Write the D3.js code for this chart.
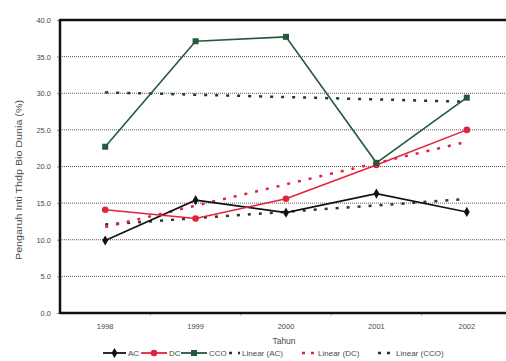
<!DOCTYPE html>
<html><head><meta charset="utf-8">
<script src="https://cdn.jsdelivr.net/npm/d3@7"></script>
<style>body{margin:0;background:#fff;}svg{display:block;font-family:"Liberation Sans",Arial,sans-serif;}</style>
</head><body>
<script>
const years = ["1998","1999","2000","2001","2002"];
const acValues = [9.9, 15.4, 13.7, 16.3, 13.8];
const dcValues = [14.1, 12.9, 15.6, 20.2, 25.0];
const ccoValues = [22.7, 37.1, 37.7, 20.5, 29.4];
const yTicks = [0,5,10,15,20,25,30,35,40];
const seriesNames = ["AC","DC","CCO"];

const W=506,H=361;
const svg=d3.select("body").append("svg").attr("width",W).attr("height",H);
const L=60,R=512,T=20,B=313;
const x=d3.scaleBand().domain(years).range([L,R]).padding(0);
const y=d3.scaleLinear().domain([0,40]).range([B,T]);
const cx=d=>x(d)+x.bandwidth()/2;
const txt="#4a4a4a";

// gridlines
svg.append("g").selectAll("line").data(yTicks.filter(v=>v>0&&v<40)).join("line")
  .attr("x1",L).attr("x2",W).attr("y1",d=>y(d)).attr("y2",d=>y(d))
  .attr("stroke","#555").attr("stroke-width",1).attr("stroke-dasharray","1,1");

// y axis
const ya=svg.append("g").attr("transform",`translate(${L},0)`)
  .call(d3.axisLeft(y).tickValues(yTicks).tickFormat(d3.format(".1f")).tickSize(3).tickPadding(6));
ya.select(".domain").remove();
ya.selectAll("text").attr("fill",txt).attr("font-size",7.5);
ya.selectAll("line").attr("stroke","#999");

// x axis
const xa=svg.append("g").attr("transform",`translate(0,${B})`)
  .call(d3.axisBottom(x).tickSize(0).tickPadding(11));
xa.select(".domain").remove();
xa.selectAll("text").attr("fill",txt).attr("font-size",7.5);
svg.append("g").selectAll("line").data(years.slice(1)).join("line")
  .attr("x1",d=>x(d)).attr("x2",d=>x(d)).attr("y1",B).attr("y2",B+3).attr("stroke","#bbb");

// frame
svg.append("line").attr("x1",L).attr("x2",W).attr("y1",T).attr("y2",T).attr("stroke","#111").attr("stroke-width",2.5);
svg.append("line").attr("x1",L).attr("x2",W).attr("y1",B).attr("y2",B).attr("stroke","#111").attr("stroke-width",2.5);
svg.append("line").attr("x1",L).attr("x2",L).attr("y1",T-1).attr("y2",B+1).attr("stroke","#111").attr("stroke-width",2.5);

// titles
svg.append("text").attr("x",284).attr("y",344).attr("text-anchor","middle").attr("font-size",8.5).attr("fill",txt).text("Tahun");
svg.append("text").attr("transform","translate(22,180) rotate(-90)").attr("text-anchor","middle").attr("font-size",8.5)
  .attr("fill",txt).attr("textLength",160).attr("lengthAdjust","spacingAndGlyphs").text("Pengaruh Inti Thdp Bio Dunia (%)");

const series=[
  {name:"AC",vals:acValues,color:"#111",trend:"#333",marker:"diamond"},
  {name:"DC",vals:dcValues,color:"#e0243c",trend:"#e0243c",marker:"circle"},
  {name:"CCO",vals:ccoValues,color:"#245a3a",trend:"#1e3a2a",marker:"square"}
];

function regress(vals){
  const xs=vals.map((v,i)=>i);
  const mx=d3.mean(xs),my=d3.mean(vals);
  const s=d3.sum(xs,(xi,i)=>(xi-mx)*(vals[i]-my))/d3.sum(xs,xi=>(xi-mx)**2);
  return [0,xs.length-1].map(i=>({i,v:my+s*(i-mx)}));
}
const line=d3.line().x(d=>cx(years[d.i])).y(d=>y(d.v));

// trendlines
series.forEach(s=>{
  svg.append("path").datum(regress(s.vals)).attr("d",line)
    .attr("fill","none").attr("stroke",s.trend).attr("stroke-width",2.5).attr("stroke-dasharray","3,8");
});

function drawMarker(g,type,color,px,py){
  if(type==="diamond") g.append("path").attr("d",d3.symbol(d3.symbolDiamond,30)()).attr("transform",`translate(${px},${py})`).attr("fill",color);
  else if(type==="circle") g.append("circle").attr("cx",px).attr("cy",py).attr("r",3.3).attr("fill",color);
  else g.append("rect").attr("x",px-3).attr("y",py-3).attr("width",6).attr("height",6).attr("fill",color);
}

series.forEach(s=>{
  const pts=s.vals.map((v,i)=>({i,v}));
  svg.append("path").datum(pts).attr("d",line).attr("fill","none").attr("stroke",s.color).attr("stroke-width",1.6);
  const g=svg.append("g");
  pts.forEach(p=>drawMarker(g,s.marker,s.color,cx(years[p.i]),y(p.v)));
});

// legend
const lg=svg.append("g").attr("font-size",8).attr("fill",txt);
const ly=353;
const legendItems=[
  {type:"line",s:series[0],x0:103,x1:126,label:"AC"},
  {type:"line",s:series[1],x0:141,x1:167,label:"DC"},
  {type:"line",s:series[2],x0:181,x1:207,label:"CCO"},
  {type:"trend",s:series[0],x0:229,x1:240,label:"Linear (AC)"},
  {type:"trend",s:series[1],x0:302,x1:316,label:"Linear (DC)"},
  {type:"trend",s:series[2],x0:378,x1:394,label:"Linear (CCO)"}
];
legendItems.forEach(it=>{
  if(it.type==="line"){
    lg.append("line").attr("x1",it.x0).attr("x2",it.x1).attr("y1",ly).attr("y2",ly).attr("stroke",it.s.color).attr("stroke-width",1.8);
    drawMarker(lg,it.s.marker,it.s.color,(it.x0+it.x1)/2,ly);
  } else {
    lg.append("line").attr("x1",it.x0).attr("x2",it.x1).attr("y1",ly).attr("y2",ly).attr("stroke",it.s.trend).attr("stroke-width",2.5).attr("stroke-dasharray","3,6");
  }
  lg.append("text").attr("x",it.x1+2).attr("y",ly+3).text(it.label);
});
</script>
</body></html>
